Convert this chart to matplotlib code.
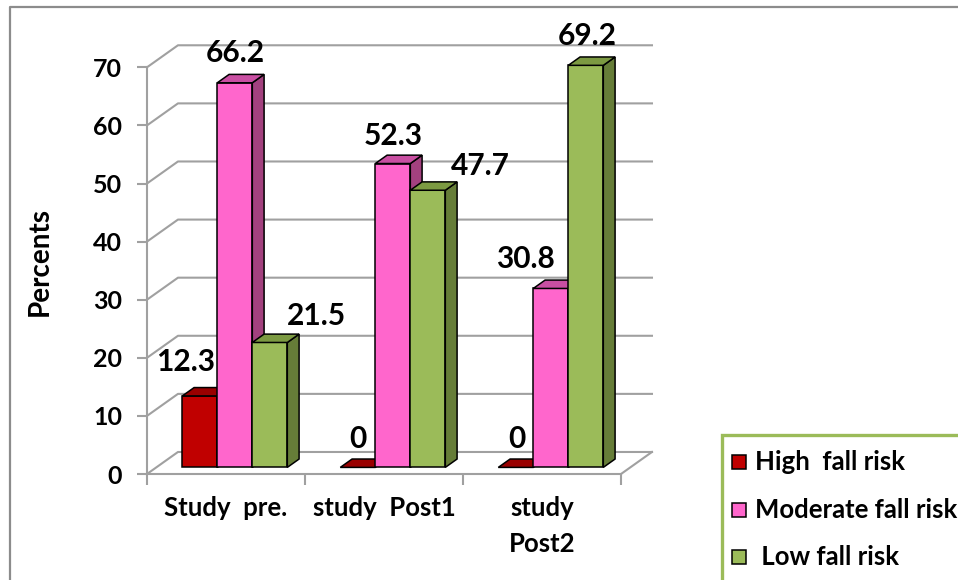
import matplotlib
matplotlib.use("Agg")
import matplotlib.pyplot as plt
from matplotlib.patches import Polygon, Rectangle
from matplotlib.lines import Line2D

plt.rcParams["font.family"] = ["Lato", "DejaVu Sans"]
plt.rcParams["font.weight"] = "bold"

# ---- data ----
categories = ["Study  pre.", "study  Post1", "study\nPost2"]
series_names = ["High  fall risk", "Moderate fall risk", " Low fall risk"]
high_risk = [12.3, 0, 0]
moderate_risk = [66.2, 52.3, 30.8]
low_risk = [21.5, 47.7, 69.2]
y_ticks = [0, 10, 20, 30, 40, 50, 60, 70]

# ---- style ----
W, H = 958, 580
front_col = ["#C00000", "#FF66CC", "#9BBB59"]
top_col = ["#990000", "#C94FA2", "#7C9A42"]
side_col = ["#7A0000", "#A3417F", "#667D38"]
grid_col = "#A0A0A0"
# depth of the 3-D floor expressed in data units (categories, percent)
DX, DY = 0.196, 3.79
D0, D1 = 0.30, 0.68          # front/back depth fraction of the bars
BAR_W = 0.2215
# per-label text offsets (pixels) from the bar's top
label_offsets = [
    [(-5, 40.5), (10, 36.4), (55.5, 33)],
    [(9.5, 35), (10, 34.6), (61.5, 31)],
    [(10.5, 35), (-16.5, 36), (10.5, 36)],
]

fig = plt.figure(figsize=(W / 100, H / 100), dpi=100)


def fx(px):
    return px / W


def fy(py):
    return 1 - py / H


ax = fig.add_axes([fx(147), fy(474), fx(621) - fx(147), fy(67.3) - fy(474)])
ax.set_xlim(0, 3)
ax.set_ylim(0, 70)
ax.patch.set_visible(False)

for s in ("top", "right"):
    ax.spines[s].set_visible(False)
for s in ("left", "bottom"):
    ax.spines[s].set_color(grid_col)
    ax.spines[s].set_linewidth(1.5)

ax.set_yticks(y_ticks)
ax.set_yticklabels([str(v) for v in y_ticks])
ax.tick_params(axis="y", direction="out", length=7, width=1.5, color=grid_col,
               pad=11, labelsize=18)
ax.set_xticks([0, 1, 2, 3])
ax.set_xticklabels([])
ax.set_xticks([0.5, 1.5, 2.5], minor=True)
ax.set_xticklabels(categories, minor=True, fontsize=18.5, linespacing=1.6)
ax.tick_params(axis="x", which="major", direction="out", length=8, width=1.5,
               color=grid_col)
ax.tick_params(axis="x", which="minor", length=0, pad=16)
for t in ax.get_yticklabels() + ax.get_xticklabels(minor=True):
    t.set_fontweight("bold")

# back wall gridlines with the diagonal returns on the left wall
for v in y_ticks:
    ax.add_line(Line2D([0, DX, 3 + DX], [v, v + DY, v + DY], color=grid_col,
                       lw=1.5, clip_on=False, zorder=1))
# right edge of the floor
ax.add_line(Line2D([3, 3 + DX], [0, DY], color=grid_col, lw=1.5,
                   clip_on=False, zorder=1))


def pt(x, v, d):
    return (x + DX * d, v + DY * d)


def draw_bar(xl, xr, v, k):
    kw = dict(edgecolor="black", lw=1.1, clip_on=False, zorder=3,
              joinstyle="miter")
    top = [pt(xl, v, D0), pt(xr, v, D0), pt(xr, v, D1), pt(xl, v, D1)]
    if v > 0:
        front = [pt(xl, 0, D0), pt(xr, 0, D0), pt(xr, v, D0), pt(xl, v, D0)]
        side = [pt(xr, 0, D0), pt(xr, 0, D1), pt(xr, v, D1), pt(xr, v, D0)]
        ax.add_patch(Polygon(front, closed=True, facecolor=front_col[k], **kw))
        ax.add_patch(Polygon(side, closed=True, facecolor=side_col[k], **kw))
    ax.add_patch(Polygon(top, closed=True, facecolor=top_col[k], **kw))


series = [high_risk, moderate_risk, low_risk]
for i in range(len(categories)):
    center = i + 0.497
    for k, vals in enumerate(series):
        xl = center + (k - 1.5) * BAR_W
        xr = xl + BAR_W
        v = vals[i]
        draw_bar(xl, xr, v, k)
        ax.annotate(f"{v:g}", xy=((xl + xr) / 2, v), xytext=label_offsets[i][k],
                    textcoords="offset pixels", ha="center", va="center",
                    fontsize=21.5, fontweight="bold", zorder=5,
                    annotation_clip=False)

# y-axis title
fig.text(fx(40), fy(262), "Percents", rotation=90, ha="center", va="center",
         fontsize=20, fontweight="bold")

# outer chart frame (runs off the right and bottom edges)
fig.add_artist(Line2D([fx(10), fx(10), 1.05], [-0.05, fy(7), fy(7)],
                      color="#8C8C8C", lw=1.6))

# legend box
fig.add_artist(Rectangle((fx(722), -0.1), 1.2 - fx(722), fy(435) + 0.1,
                         facecolor="white", edgecolor="#9BBB59", lw=2.4,
                         transform=fig.transFigure))
row_y = [462, 510, 557]
for k, name in enumerate(series_names):
    fig.add_artist(Rectangle((fx(732), fy(row_y[k] + 7)), fx(14), 14 / H,
                             facecolor=front_col[k], edgecolor="black", lw=1.1,
                             transform=fig.transFigure))
    fig.text(fx(755), fy(row_y[k]), name, ha="left", va="center",
             fontsize=18.5, fontweight="bold")

fig.savefig("out.png", dpi=100)
